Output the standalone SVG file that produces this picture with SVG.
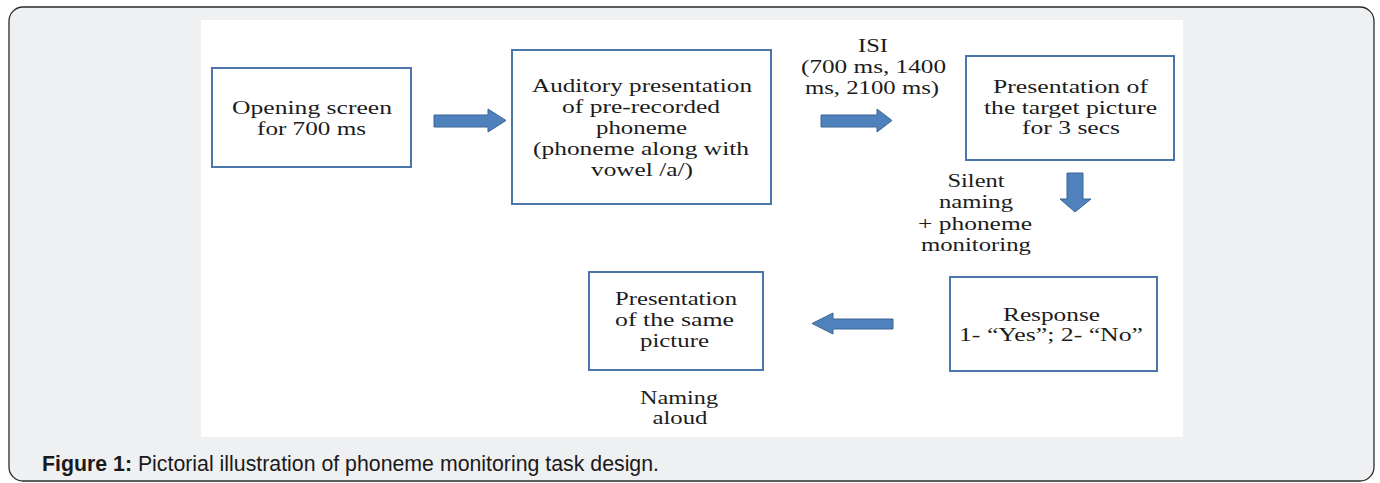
<svg xmlns="http://www.w3.org/2000/svg" width="1380" height="483" viewBox="0 0 1380 483">
<style>
.box{fill:#ffffff;stroke:#4a76ab;stroke-width:2}
.t{font-family:"Liberation Serif","Times New Roman",serif;font-size:18.5px;fill:#1c1c1c;text-anchor:middle}
.arr{fill:#4f81bd;stroke:#3d6796;stroke-width:1}
.cap{font-family:"Liberation Sans",Arial,sans-serif;font-size:21.3px;fill:#1a1a1a}
</style>
<rect x="9" y="7" width="1365" height="474" rx="14" ry="14" fill="#eff0f2" stroke="#2a2a2a" stroke-width="1.3"/>
<rect x="201" y="20" width="982" height="417" fill="#ffffff"/>

<g id="n1">
<rect class="box" x="212" y="68" width="199" height="99"/>
<text class="t" x="312" y="114" textLength="160" lengthAdjust="spacingAndGlyphs">Opening screen</text>
<text class="t" x="311.5" y="135" textLength="109" lengthAdjust="spacingAndGlyphs">for 700 ms</text>
</g>

<g id="n2">
<rect class="box" x="512" y="50" width="259" height="154"/>
<text class="t" x="642" y="92" textLength="220" lengthAdjust="spacingAndGlyphs">Auditory presentation</text>
<text class="t" x="641" y="113" textLength="158" lengthAdjust="spacingAndGlyphs">of pre-recorded</text>
<text class="t" x="641.5" y="134" textLength="91" lengthAdjust="spacingAndGlyphs">phoneme</text>
<text class="t" x="641" y="155" textLength="216" lengthAdjust="spacingAndGlyphs">(phoneme along with</text>
<text class="t" x="642" y="176" textLength="102" lengthAdjust="spacingAndGlyphs">vowel /a/)</text>
</g>

<g id="isi">
<text class="t" x="873" y="52" textLength="30" lengthAdjust="spacingAndGlyphs">ISI</text>
<text class="t" x="873.5" y="73" textLength="145" lengthAdjust="spacingAndGlyphs">(700 ms, 1400</text>
<text class="t" x="872" y="94" textLength="134" lengthAdjust="spacingAndGlyphs">ms, 2100 ms)</text>
</g>

<g id="n3">
<rect class="box" x="966" y="56" width="208" height="104"/>
<text class="t" x="1070.5" y="93" textLength="155" lengthAdjust="spacingAndGlyphs">Presentation of</text>
<text class="t" x="1070.5" y="114" textLength="173" lengthAdjust="spacingAndGlyphs">the target picture</text>
<text class="t" x="1071" y="134" textLength="98" lengthAdjust="spacingAndGlyphs">for 3 secs</text>
</g>

<g id="silent">
<text class="t" x="976" y="187" textLength="57" lengthAdjust="spacingAndGlyphs">Silent</text>
<text class="t" x="976" y="208" textLength="74" lengthAdjust="spacingAndGlyphs">naming</text>
<text class="t" x="975" y="230" textLength="114" lengthAdjust="spacingAndGlyphs">+ phoneme</text>
<text class="t" x="976" y="251" textLength="110" lengthAdjust="spacingAndGlyphs">monitoring</text>
</g>

<g id="n4">
<rect class="box" x="950" y="277" width="207" height="94"/>
<text class="t" x="1051.5" y="321" textLength="97" lengthAdjust="spacingAndGlyphs">Response</text>
<text class="t" x="1051" y="341" textLength="184" lengthAdjust="spacingAndGlyphs">1- “Yes”; 2- “No”</text>
</g>

<g id="n5">
<rect class="box" x="589" y="272" width="174" height="98"/>
<text class="t" x="676" y="305" textLength="122" lengthAdjust="spacingAndGlyphs">Presentation</text>
<text class="t" x="674.5" y="326" textLength="119" lengthAdjust="spacingAndGlyphs">of the same</text>
<text class="t" x="674.5" y="347" textLength="69" lengthAdjust="spacingAndGlyphs">picture</text>
</g>

<g id="aloud">
<text class="t" x="679" y="404" textLength="78" lengthAdjust="spacingAndGlyphs">Naming</text>
<text class="t" x="680" y="424" textLength="55" lengthAdjust="spacingAndGlyphs">aloud</text>
</g>

<g id="connectors">
<polygon class="arr" points="434,115 488,115 488,109 506,120.5 488,132 488,127 434,127"/>
<polygon class="arr" points="821,115 877,115 877,109 892,120.5 877,132 877,127 821,127"/>
<polygon class="arr" points="1067,173 1083,173 1083,199 1091,199 1075,212 1060,199 1067,199"/>
<polygon class="arr" points="893,319 833,319 833,313 812,323.5 833,334 833,329 893,329"/>
</g>

<text class="cap" x="42" y="471" textLength="617" lengthAdjust="spacingAndGlyphs"><tspan font-weight="bold">Figure 1:</tspan> Pictorial illustration of phoneme monitoring task design.</text>
</svg>
